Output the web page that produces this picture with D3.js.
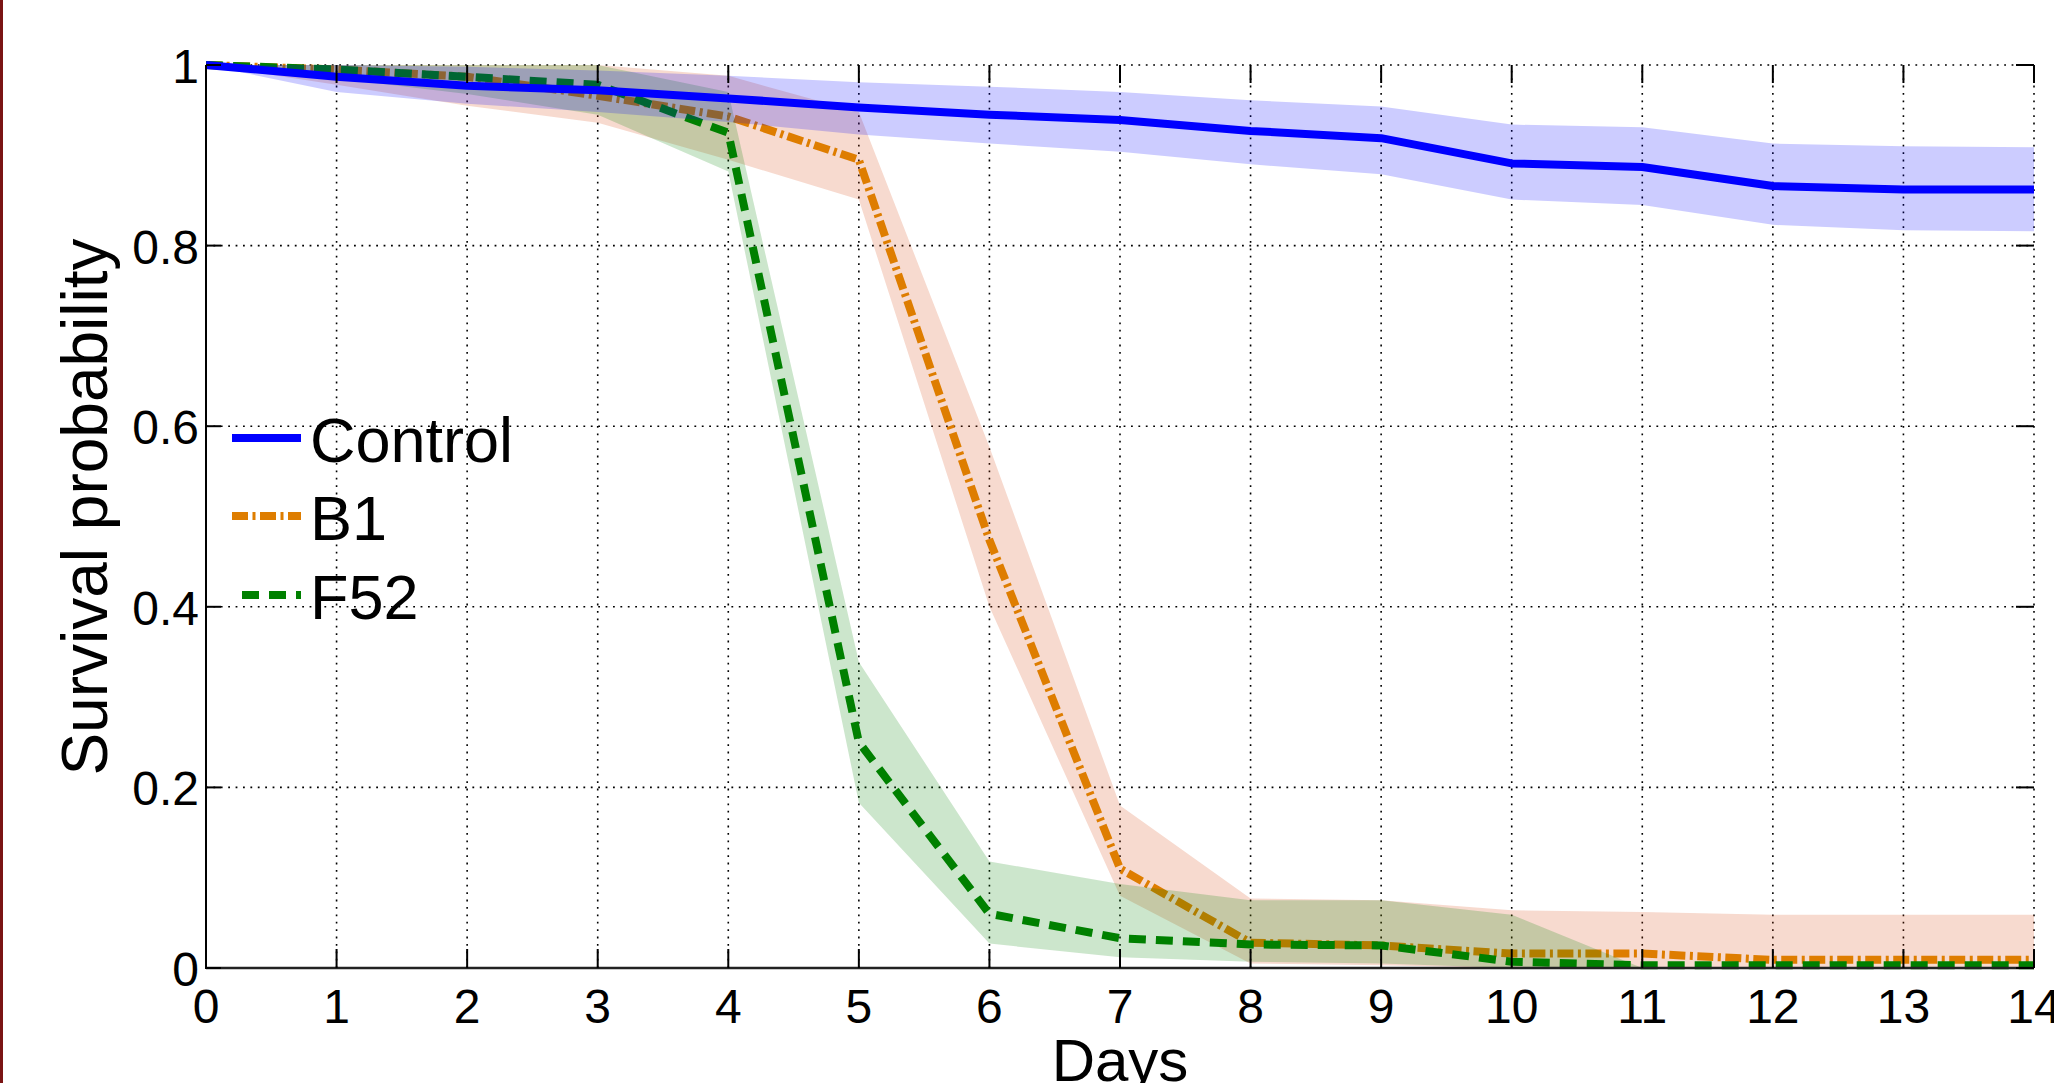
<!DOCTYPE html>
<html><head><meta charset="utf-8">
<script src="https://cdn.jsdelivr.net/npm/d3@7"></script>
<style>body{margin:0;background:#fff;overflow:hidden} svg{display:block}</style>
</head><body>
<svg id="c" width="2054" height="1083"></svg>
<script>
// ---- data ----
const days = [0,1,2,3,4,5,6,7,8,9,10,11,12,13,14];
const seriesNames = ["Control","B1","F52"];
const controlMean  = [1, 0.987, 0.977, 0.972, 0.963, 0.953, 0.945, 0.939, 0.927, 0.919, 0.891, 0.887, 0.866, 0.862, 0.862];
const controlUpper = [1, 1.0, 0.998, 0.994, 0.988, 0.981, 0.976, 0.970, 0.961, 0.954, 0.934, 0.931, 0.913, 0.910, 0.909];
const controlLower = [1, 0.970, 0.957, 0.948, 0.937, 0.923, 0.913, 0.904, 0.890, 0.879, 0.851, 0.845, 0.823, 0.817, 0.816];
const b1Mean  = [1, 0.995, 0.987, 0.966, 0.943, 0.895, 0.474, 0.11, 0.028, 0.025, 0.016, 0.016, 0.009, 0.009, 0.009];
const b1Upper = [1, 1, 1, 1, 0.988, 0.948, 0.577, 0.18, 0.077, 0.075, 0.064, 0.062, 0.059, 0.059, 0.059];
const b1Lower = [1, 0.978, 0.955, 0.936, 0.895, 0.851, 0.40, 0.08, 0.005, 0.003, 0, 0, 0, 0, 0];
const f52Mean  = [1, 0.995, 0.987, 0.978, 0.925, 0.25, 0.06, 0.033, 0.026, 0.025, 0.007, 0.003, 0.003, 0.003, 0.003];
const f52Upper = [1, 1, 1, 1, 0.97, 0.339, 0.118, 0.093, 0.075, 0.075, 0.059, 0, 0, 0, 0];
const f52Lower = [1, 0.985, 0.968, 0.945, 0.882, 0.183, 0.027, 0.012, 0.007, 0.005, 0, 0, 0, 0, 0];
const xTickValues = [0,1,2,3,4,5,6,7,8,9,10,11,12,13,14];
const yTickValues = [0,0.2,0.4,0.6,0.8,1];
const yTickLabels = ["0","0.2","0.4","0.6","0.8","1"];

// ---- layout ----
const W = 2054, H = 1083;
const x = d3.scaleLinear().domain([0,14]).range([206,2034]);
const y = d3.scaleLinear().domain([0,1]).range([968,65]);
const FONT = "'Liberation Sans', Arial, Helvetica, sans-serif";

const styles = {
  Control: {line:"#0000ff", fill:"#0000ff", dash:null},
  B1:      {line:"#de7d00", fill:"#d5460f", dash:"16,4.5,3,4.5"},
  F52:     {line:"#008000", fill:"#008000", dash:"17,10"}
};

const svg = d3.select("#c");
svg.append("rect").attr("width",W).attr("height",H).attr("fill","#fff");
svg.append("rect").attr("x",0).attr("y",0).attr("width",3).attr("height",H).attr("fill","#7a1414");

// grid
const grid = svg.append("g").attr("stroke","#000").attr("stroke-width",1.6).attr("stroke-dasharray","1.8,5.6");
xTickValues.filter(d=>d>0).forEach(d=>{
  grid.append("line").attr("x1",x(d)).attr("x2",x(d)).attr("y1",y(0)).attr("y2",y(1));
});
yTickValues.filter(d=>d>0).forEach(d=>{
  grid.append("line").attr("x1",x(0)).attr("x2",x(14)).attr("y1",y(d)).attr("y2",y(d));
});

svg.append("clipPath").attr("id","plotclip").append("rect")
  .attr("x",x(0)).attr("y",y(1)).attr("width",x(14)-x(0)).attr("height",y(0)-y(1));

const area = d3.area().x((d,i)=>x(days[i])).y0(d=>y(d[0])).y1(d=>y(d[1]));
const line = d3.line().x((d,i)=>x(days[i])).y(d=>y(d));

const data = {
  Control: {mean:controlMean, lo:controlLower, hi:controlUpper},
  B1: {mean:b1Mean, lo:b1Lower, hi:b1Upper},
  F52: {mean:f52Mean, lo:f52Lower, hi:f52Upper}
};
const drawOrder = ["B1","F52","Control"];
drawOrder.forEach(name=>{
  const s = data[name], st = styles[name];
  const pts = s.lo.map((l,i)=>[l, s.hi[i]]);
  svg.append("path").attr("clip-path","url(#plotclip)").attr("d", area(pts))
    .attr("fill", st.fill).attr("fill-opacity",0.2).attr("stroke","none");
  const p = svg.append("path").attr("d", line(s.mean)).attr("fill","none")
    .attr("stroke", st.line).attr("stroke-width",8).attr("stroke-linejoin","round");
  if (st.dash) p.attr("stroke-dasharray", st.dash);
});

// axes
const ax = svg.append("g").attr("stroke","#000");
ax.append("line").attr("x1",x(0)).attr("x2",x(0)).attr("y1",y(0)+1).attr("y2",y(1)).attr("stroke-width",2);
ax.append("line").attr("x1",x(0)).attr("x2",x(14)).attr("y1",y(0)).attr("y2",y(0)).attr("stroke-width",2.6).attr("stroke","#222");
xTickValues.forEach(d=>{
  ax.append("line").attr("x1",x(d)).attr("x2",x(d)).attr("y1",y(0)).attr("y2",y(0)-19).attr("stroke-width",2);
  ax.append("line").attr("x1",x(d)).attr("x2",x(d)).attr("y1",y(1)).attr("y2",y(1)+18).attr("stroke-width",2);
});
yTickValues.forEach(d=>{
  ax.append("line").attr("x1",x(0)).attr("x2",x(0)+15).attr("y1",y(d)).attr("y2",y(d)).attr("stroke-width",2);
  ax.append("line").attr("x1",x(14)).attr("x2",x(14)-18).attr("y1",y(d)).attr("y2",y(d)).attr("stroke-width",2);
});

// tick labels
const tl = svg.append("g").attr("font-family",FONT).attr("font-size",48).attr("fill","#000");
xTickValues.forEach(d=>{
  tl.append("text").attr("x",x(d)).attr("y",1023).attr("text-anchor","middle").text(String(d));
});
yTickValues.forEach((d,i)=>{
  tl.append("text").attr("x",199).attr("y",y(d)+18).attr("text-anchor","end").text(yTickLabels[i]);
});

// axis labels
svg.append("text").attr("font-family",FONT).attr("font-size",60).attr("text-anchor","middle")
  .attr("x",x(7)).attr("y",1081).text("Days");
svg.append("text").attr("font-family",FONT).attr("font-size",64).attr("text-anchor","middle")
  .attr("transform","translate(107,507) rotate(-90)").text("Survival probability");

// legend
const legY = [438,516,595];
const leg = svg.append("g");
seriesNames.forEach((name,i)=>{
  const st = styles[name];
  const l = leg.append("line").attr("x1",232).attr("x2",301).attr("y1",legY[i]).attr("y2",legY[i])
    .attr("stroke",st.line).attr("stroke-width",8);
  if (st.dash) l.attr("stroke-dasharray",st.dash).attr("stroke-dashoffset", name==="F52"?17:0);
  leg.append("text").attr("x",310).attr("y",legY[i]+24).attr("font-family",FONT).attr("font-size",63)
    .text(name);
});
</script>
</body></html>
